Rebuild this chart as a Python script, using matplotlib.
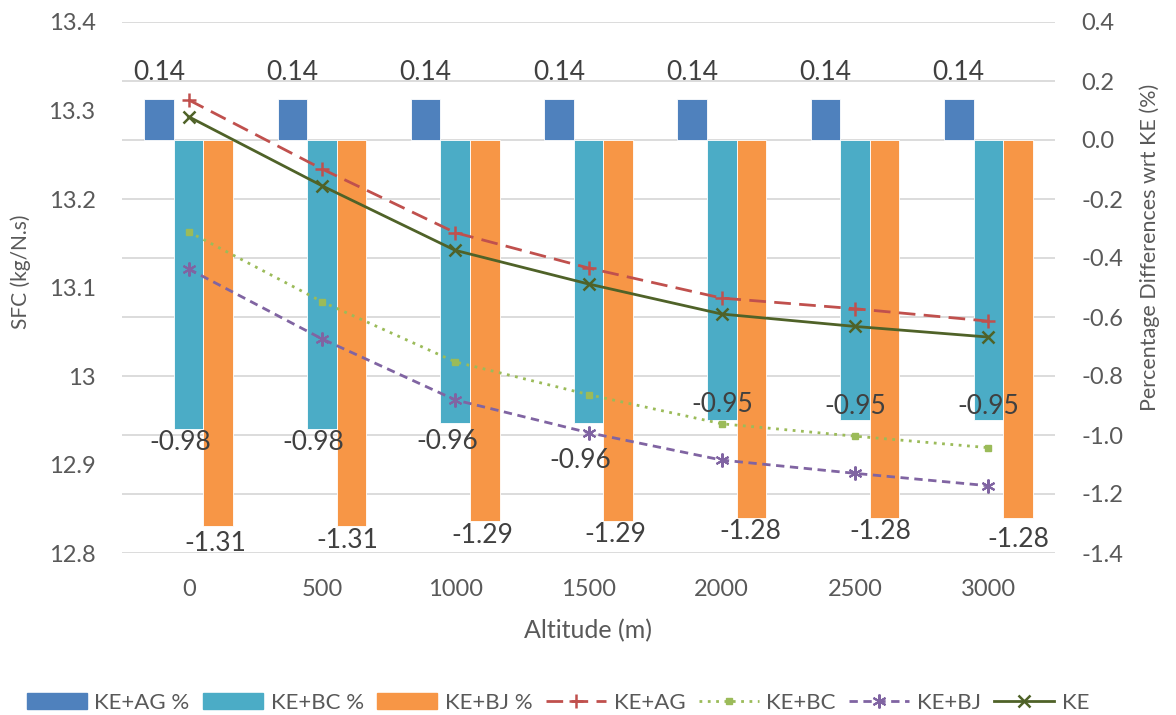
import matplotlib
matplotlib.use("Agg")
import matplotlib.pyplot as plt
import numpy as np
from matplotlib.patches import Patch
from matplotlib.lines import Line2D

plt.rcParams['font.family'] = ['Lato', 'DejaVu Sans']

altitudes = ["0", "500", "1000", "1500", "2000", "2500", "3000"]

# SFC (kg/N.s) per configuration
sfc_ke_ag = [13.312, 13.234, 13.162, 13.122, 13.088, 13.076, 13.062]
sfc_ke_bc = [13.163, 13.084, 13.016, 12.979, 12.946, 12.932, 12.919]
sfc_ke_bj = [13.121, 13.042, 12.973, 12.936, 12.905, 12.890, 12.876]
sfc_ke = [13.293, 13.215, 13.142, 13.104, 13.070, 13.056, 13.044]

# Percentage differences with respect to KE
pct_ke_ag = [0.14, 0.14, 0.14, 0.14, 0.14, 0.14, 0.14]
pct_ke_bc = [-0.98, -0.98, -0.96, -0.96, -0.95, -0.95, -0.95]
pct_ke_bj = [-1.31, -1.31, -1.29, -1.29, -1.28, -1.28, -1.28]

left_ticks = [12.8, 12.9, 13.0, 13.1, 13.2, 13.3, 13.4]
left_tick_labels = ["12.8", "12.9", "13", "13.1", "13.2", "13.3", "13.4"]
right_ticks = [-1.4, -1.2, -1.0, -0.8, -0.6, -0.4, -0.2, 0.0, 0.2, 0.4]

C_AG_BAR = "#4F81BD"
C_BC_BAR = "#4BACC6"
C_BJ_BAR = "#F79646"
C_AG = "#C0504D"
C_BC = "#9BBB59"
C_BJ = "#8064A2"
C_KE = "#4F6228"
TXT = "#595959"
LBL = "#404040"
GRID = "#D9D9D9"

W, H = 1176, 715
fig = plt.figure(figsize=(W / 100, H / 100), dpi=100)
rect = [122 / W, 1 - 553 / H, (1055 - 122) / W, (553 - 22) / H]
ax2 = fig.add_axes(rect)                   # bars, right scale
ax = fig.add_axes(rect, sharex=ax2)        # lines, left scale
ax.set_zorder(ax2.get_zorder() + 1)
ax.patch.set_visible(False)

x = np.arange(len(altitudes))
w = 0.222

# Bars on the right-hand axis
ax2.bar(x - w, pct_ke_ag, w, color=C_AG_BAR, edgecolor="white", linewidth=0.6, zorder=2)
ax2.bar(x, pct_ke_bc, w, color=C_BC_BAR, edgecolor="white", linewidth=0.6, zorder=2)
ax2.bar(x + w, pct_ke_bj, w, color=C_BJ_BAR, edgecolor="white", linewidth=0.6, zorder=2)
ax2.set_ylim(-1.4, 0.4)
ax2.set_yticks(right_ticks)
ax2.set_yticklabels([f"{v:.1f}" for v in right_ticks])
ax2.yaxis.tick_right()
ax2.grid(axis="y", color=GRID, linewidth=1.3, zorder=0)
ax2.set_axisbelow(True)

# Data labels (offsets in points)
bc_offsets = [(-6, -10), (-6, -10), (-6, -13), (-6, -27), (0, 11), (0, 10), (0, 10)]
bj_offsets = [(-2, -12), (-3, -10), (-2, -11), (-2, -10), (-1, -10), (-3, -10), (0, -16)]
for i in range(len(altitudes)):
    ax2.annotate(f"{pct_ke_ag[i]:.2f}", (x[i] - w, pct_ke_ag[i]), xytext=(0, 19),
                 textcoords="offset points", ha="center", va="center",
                 fontsize=19, color=LBL, zorder=5)
    ax2.annotate(f"{pct_ke_bc[i]:.2f}", (x[i], pct_ke_bc[i]), xytext=bc_offsets[i],
                 textcoords="offset points", ha="center", va="center",
                 fontsize=19, color=LBL, zorder=5)
    ax2.annotate(f"{pct_ke_bj[i]:.2f}", (x[i] + w, pct_ke_bj[i]), xytext=bj_offsets[i],
                 textcoords="offset points", ha="center", va="center",
                 fontsize=19, color=LBL, zorder=5, annotation_clip=False)

# Lines on the left-hand axis
ax.plot(x, sfc_ke_ag, color=C_AG, linestyle=(0, (6, 3)), linewidth=2,
        marker="+", markersize=10, markeredgewidth=1.8, label="KE+AG")
ax.plot(x, sfc_ke_bc, color=C_BC, linestyle=(0, (1, 2)), linewidth=2,
        marker="s", markersize=4, label="KE+BC")
ax.plot(x, sfc_ke_bj, color=C_BJ, linestyle=(0, (3, 2)), linewidth=2,
        marker=(6, 2, 0), markersize=10, markeredgewidth=1.5, label="KE+BJ")
ax.plot(x, sfc_ke, color=C_KE, linestyle="-", linewidth=2,
        marker="x", markersize=9, markeredgewidth=1.8, label="KE")
ax.set_ylim(12.8, 13.4)
ax.set_yticks(left_ticks)
ax.set_yticklabels(left_tick_labels)
ax.yaxis.tick_left()

ax2.set_xlim(-0.5, len(altitudes) - 0.5)
ax2.set_xticks(x)
ax2.set_xticklabels(altitudes)

for a in (ax, ax2):
    for s in a.spines.values():
        s.set_visible(False)
    a.tick_params(length=0, labelsize=17, colors=TXT, pad=19)
ax.tick_params(axis="x", labelbottom=False)

# Axis titles
fig.text(21 / W, 1 - 272 / H, "SFC (kg/N.s)", rotation=90, ha="center", va="center",
         fontsize=15, color=TXT)
fig.text(1150 / W, 1 - 247 / H, "Percentage Differences wrt KE (%)", rotation=90,
         ha="center", va="center", fontsize=15.5, color=TXT)
fig.text(588 / W, 1 - 631 / H, "Altitude (m)", ha="center", va="center",
         fontsize=18, color=TXT)

handles = [
    Patch(color=C_AG_BAR, label="KE+AG %"),
    Patch(color=C_BC_BAR, label="KE+BC %"),
    Patch(color=C_BJ_BAR, label="KE+BJ %"),
    Line2D([], [], color=C_AG, linestyle=(0, (6, 3)), linewidth=2, marker="+",
           markersize=10, markeredgewidth=1.8, label="KE+AG"),
    Line2D([], [], color=C_BC, linestyle=(0, (1, 2)), linewidth=2, marker="s",
           markersize=4, label="KE+BC"),
    Line2D([], [], color=C_BJ, linestyle=(0, (3, 2)), linewidth=2, marker=(6, 2, 0),
           markersize=10, markeredgewidth=1.5, label="KE+BJ"),
    Line2D([], [], color=C_KE, linestyle="-", linewidth=2, marker="x",
           markersize=9, markeredgewidth=1.8, label="KE"),
]
fig.legend(handles=handles, loc="center", bbox_to_anchor=(558 / W, 1 - 703 / H), ncol=7,
           frameon=False, fontsize=16, labelcolor=TXT, handlelength=2.7,
           handleheight=0.75, columnspacing=0.6, handletextpad=0.35,
           borderpad=0, borderaxespad=0)

fig.savefig("out.png", dpi=100)
